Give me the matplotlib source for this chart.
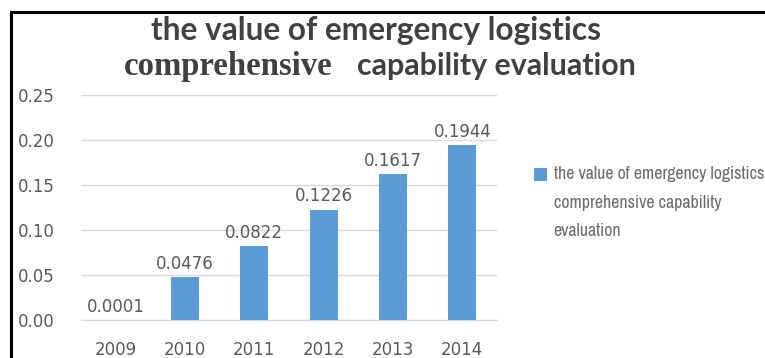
import matplotlib
matplotlib.use("Agg")
import matplotlib.pyplot as plt
from matplotlib import font_manager
from matplotlib.lines import Line2D
from matplotlib.patches import Rectangle
from matplotlib.container import BarContainer
from matplotlib.legend_handler import HandlerPatch

# data
years = ["2009", "2010", "2011", "2012", "2013", "2014"]
values = [0.0001, 0.0476, 0.0822, 0.1226, 0.1617, 0.1944]
value_labels = ["0.0001", "0.0476", "0.0822", "0.1226", "0.1617", "0.1944"]
y_ticks = [0.00, 0.05, 0.10, 0.15, 0.20, 0.25]
series_name = "the value of emergency logistics\ncomprehensive capability\nevaluation"

W, H = 765, 358
BLUE = "#5B9BD5"
GRID = "#D9D9D9"
TXT = "#595959"


def have_font(name):
    try:
        font_manager.findfont(font_manager.FontProperties(family=name), fallback_to_default=False)
        return True
    except Exception:
        return False


def narrow_font_file():
    # the legend in the reference uses a very condensed face
    bad = ["bold", "italic", "light", "medium", "black", "thin", "semi", "oblique", "heavy"]
    cands = []
    for f in font_manager.fontManager.ttflist:
        base = f.fname.lower().replace("-", "").replace("_", "").rsplit("/", 1)[-1]
        if any(b in base for b in bad):
            continue
        if "narrow" in base:
            cands.append((0, f.fname))
        elif "extracondensed" in base:
            cands.append((1, f.fname))
        elif "condensed" in base:
            cands.append((2, f.fname))
    cands.sort()
    return cands[0][1] if cands else None


nf = narrow_font_file()
if nf:
    leg_prop = font_manager.FontProperties(fname=nf, size=12)
else:
    leg_prop = font_manager.FontProperties(family="DejaVu Sans", size=12)
title_sans = "Lato" if have_font("Lato") else "DejaVu Sans"

fig = plt.figure(figsize=(W / 100, H / 100), dpi=100)
fig.patch.set_facecolor("white")

# plot area in pixels: x 81..497, y(0)=320, y(0.25)=95
ax = fig.add_axes([81 / W, 1 - 320 / H, (497 - 81) / W, (320 - 95) / H])
x = range(len(years))
bars = ax.bar(x, values, width=0.4, color=BLUE, label=series_name, zorder=3)
ax.bar_label(bars, labels=value_labels, padding=3, fontsize=12, color=TXT)

ax.set_xlim(-0.5, len(years) - 0.5)
ax.set_ylim(0, 0.25)
ax.set_yticks(y_ticks)
ax.set_yticklabels([f"{t:.2f}" for t in y_ticks])
ax.set_xticks(list(x))
ax.set_xticklabels(years)
ax.tick_params(axis="y", length=0, pad=19, labelsize=12, labelcolor=TXT)
ax.tick_params(axis="x", length=0, pad=15, labelsize=12, labelcolor=TXT)
ax.yaxis.grid(True, color=GRID, lw=1, zorder=0)
for s in ["top", "right", "left"]:
    ax.spines[s].set_visible(False)
ax.spines["bottom"].set_color(GRID)

line_px = 28.5          # distance between legend lines in the reference
shift = {"pt": line_px * 72 / 100}


def top_square(legend, orig_handle, xdescent, ydescent, width, height, fontsize):
    # put the marker next to the first line of the three-line label
    return Rectangle((-xdescent, -ydescent + shift["pt"]), width, height)


def first_child(tgt, src):
    tgt.update_from(src.patches[0])


def make_legend(prop, ls):
    lg = ax.legend(loc="upper left", bbox_to_anchor=(518 / W, 1 - 150 / H),
                   bbox_transform=fig.transFigure, frameon=False,
                   handlelength=0.75, handleheight=0.75, handletextpad=0.35,
                   prop=prop, labelcolor="#6b6b6b",
                   handler_map={BarContainer: HandlerPatch(patch_func=top_square,
                                                           update_func=first_child)})
    lg.get_texts()[0].set_linespacing(ls)
    return lg


# title, two lines; the second line mixes a serif and a sans face
t1 = fig.text(376 / W, 1 - 40 / H, "the value of emergency logistics",
              ha="center", va="baseline", fontsize=18, fontweight="bold",
              family=title_sans, color="#404040")
t2a = fig.text(333 / W, 1 - 75 / H, "comprehensive", ha="right", va="baseline",
               fontsize=18, fontweight="bold", family="Liberation Serif", color="#404040")
t2b = fig.text(357 / W, 1 - 75 / H, "capability evaluation", ha="left", va="baseline",
               fontsize=18, fontweight="bold", family=title_sans, color="#404040")

# legend: draw, measure the real width / line step, resize to the reference box
size, ls = 12.0, 1.4
p = leg_prop.copy()
leg = make_legend(p, ls)
for _ in range(4):
    fig.canvas.draw()
    r = fig.canvas.get_renderer()
    bb = leg.get_texts()[0].get_window_extent(r)
    _, lp_h, lp_d = r.get_text_width_height_descent("lp", p, ismath=False)
    step = (bb.height - lp_h) / 2
    size = size * 210 / bb.width
    if step > 0:
        ls = ls * line_px / step
    p = leg_prop.copy()
    p.set_size(size)
    leg = make_legend(p, ls)

# scale title pieces to the widths seen in the reference
fig.canvas.draw()
r = fig.canvas.get_renderer()
for t, target in [(t1, 452), (t2a, 208), (t2b, 280)]:
    tw = t.get_window_extent(r).width
    t.set_fontsize(t.get_fontsize() * target / tw)

# black frame on left and top edges
fig.add_artist(Line2D([11 / W, 11 / W], [0, 1 - 11.5 / H], color="black", lw=2.2))
fig.add_artist(Line2D([11 / W, 1], [1 - 11.5 / H, 1 - 11.5 / H], color="black", lw=2.2))

fig.savefig("out.png", dpi=100)
